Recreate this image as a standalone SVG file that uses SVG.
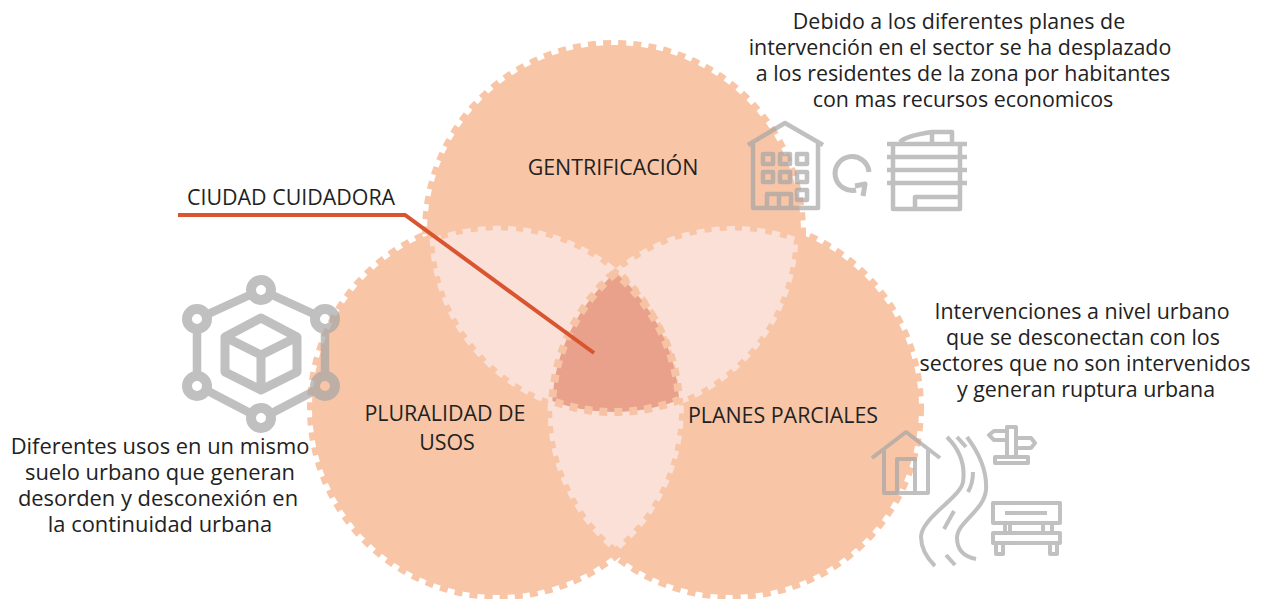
<svg xmlns="http://www.w3.org/2000/svg" width="1271" height="599" viewBox="0 0 1271 599">
<style>
.base{fill:#f8c6a7;stroke:#f8c6a7;stroke-width:10;stroke-dasharray:8 7}
.pale{fill:#fbe0d8;stroke:#fbe0d8;stroke-width:9;stroke-dasharray:8 7}
.core{fill:#e9a18b;stroke:#f6c3a5;stroke-width:8;stroke-dasharray:8 7}
text{font-family:"Open Sans","Liberation Sans",sans-serif;font-size:21.4px;fill:#222}
.m{text-anchor:middle}
.l{font-size:21.9px}
.ic{fill:none;stroke:#a6a6a6;stroke-linejoin:round;opacity:.7}
</style>
<rect width="1271" height="599" fill="#fff"/>
<g id="circle-gentrificacion"><circle class="base" cx="614" cy="232" r="187"/></g>
<g id="circle-pluralidad"><circle class="base" cx="499" cy="408" r="187"/></g>
<g id="circle-planes"><circle class="base" cx="732" cy="408" r="187"/></g>
<g id="lens-ab"><path class="pale" d="M434.3 242A180 180 0 0 1 611 270A180 180 0 0 0 552.3 401A180 180 0 0 1 434.3 242Z"/></g>
<g id="lens-ac"><path class="pale" d="M793.7 241A180 180 0 0 0 621 270A180 180 0 0 1 679 400A180 180 0 0 0 793.7 241Z"/></g>
<g id="lens-bc"><path class="pale" d="M552.3 401A180 180 0 0 0 679 400A180 180 0 0 1 615.5 547A180 180 0 0 1 552.3 401Z"/></g>
<g id="core"><path class="core" d="M615.500 273A180 180 0 0 0 552.300 401A180 180 0 0 0 679 400A180 180 0 0 0 615.500 273Z"/></g>
<g id="icon-buildings" class="ic" stroke-width="4.500">
<path d="M748 145L785 123L823 145M753 143V208H818V143M767 208V194H791V208M779 194V208"/>
<path d="M763 154h10v10h-10zM780 154h10v10h-10zM797 154h10v10h-10zM763 172h10v10h-10zM780 172h10v10h-10zM797 172h10v10h-10zM797 190h10v10h-10z"/>
<path d="M869 172A17 17 0 1 0 856 190M855 186L865 184L863 196" stroke-width="5"/>
<path d="M887 144H967M887 157H967M887 170H967M887 183H967M893 144V209H960V144M915 209V197H960M900 142Q905 136 932 132H952V142M932 132V142"/>
</g>
<g id="icon-network" class="ic" stroke-width="8.500">
<path d="M270 294L316 315M325 329V376M316 390L270 414M252 414L206 390M197 376V329M206 315L252 294"/>
<g stroke-width="10"><circle cx="261" cy="290" r="10"/><circle cx="325" cy="319" r="10"/><circle cx="325" cy="386" r="10"/><circle cx="261" cy="418" r="10"/><circle cx="197" cy="386" r="10"/><circle cx="197" cy="319" r="10"/></g>
<path stroke-width="9" d="M261 318L297 337V372L261 390L225 372V337ZM225 337L261 355L297 337M261 355V390"/>
</g>
<g id="icon-urban" class="ic" stroke-width="4">
<path d="M872 458L906 432L940 458M884 449V493H928V449M897 493V459H915V493"/>
<path d="M947 437C962 452 965 468 963 482C961 497 921 518 921 537C921 550 929 560 935 566M967 437C982 457 987 475 986 490C984 511 957 522 957 538C957 552 966 557 976 559"/>
<path d="M957 437L966 447M973 472C973 481 971 487 968 492M954 511L944 529M946 555L955 565"/>
<path d="M1007 457V427H1016V457M995 457H1028V463H995ZM1007 431H994L989 435L994 440H1007M1016 438H1031L1035 443L1031 448H1016"/>
<path d="M993 503H1060V523H993ZM1005 513H1047M1005 523V533M1010 523V533M1043 523V533M1052 523V533M993 533H1060V543H993ZM996 543V554H1003V543M1050 543V554H1057V543"/>
</g>
<g id="connectors"><path d="M178 215H405L594 353" fill="none" stroke="#d9552f" stroke-width="4"/></g>
<g id="labels">
<text x="187" y="205">CIUDAD CUIDADORA</text>
<text class="m" x="613" y="175">GENTRIFICACIÓN</text>
<text class="m" x="445" y="421">PLURALIDAD DE</text>
<text class="m" x="447" y="450">USOS</text>
<text class="m" x="783" y="423">PLANES PARCIALES</text>
<text class="m" x="959" y="29">Debido a los diferentes planes de</text>
<text class="m" x="960" y="55">intervención en el sector se ha desplazado</text>
<text class="m" x="963" y="81">a los residentes de la zona por habitantes</text>
<text class="m" x="963" y="107">con mas recursos economicos</text>
<text class="m" x="1082" y="319">Intervenciones a nivel urbano</text>
<text class="m" x="1083" y="345">que se desconectan con los</text>
<text class="m" x="1085" y="371">sectores que no son intervenidos</text>
<text class="m" x="1086" y="397">y generan ruptura urbana</text>
<text class="m l" x="160" y="454">Diferentes usos en un mismo</text>
<text class="m l" x="160" y="480">suelo urbano que generan</text>
<text class="m l" x="158" y="506">desorden y desconexión en</text>
<text class="m l" x="160" y="532">la continuidad urbana</text>
</g>
</svg>
